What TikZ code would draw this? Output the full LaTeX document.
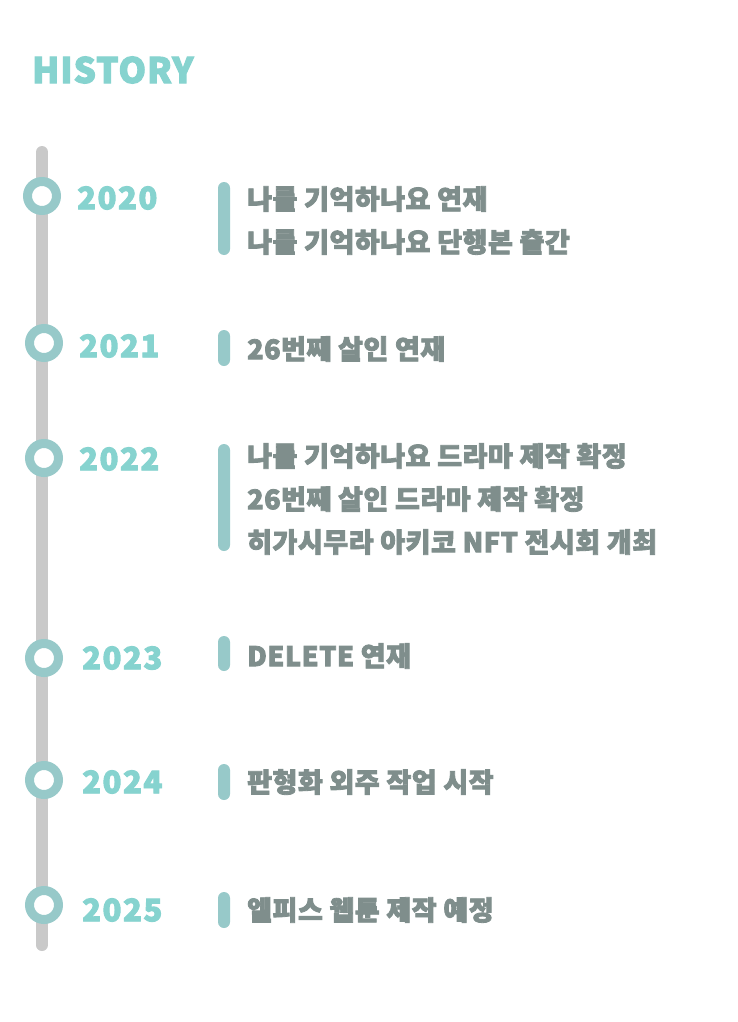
\documentclass[tikz,border=0pt]{standalone}
\usepackage{fontspec}
\setmainfont{Noto Sans CJK KR}[UprightFont=* Black, FakeBold=3]
\definecolor{titleteal}{HTML}{86D3CF}
\definecolor{ringteal}{HTML}{97C9C9}
\definecolor{linegray}{HTML}{C9C9C9}
\definecolor{textgray}{HTML}{7F8E8C}

\begin{document}
\begin{tikzpicture}[
        x=1pt, y=-1pt,
        ring/.style={circle, draw=ringteal, line width=9pt, fill=white, minimum size=29pt, inner sep=0pt},
        yearlabel/.style={anchor=west, text=titleteal, font=\fontsize{31}{31}\selectfont\addfontfeatures{LetterSpace=5}, inner sep=0pt},
        marker/.style={fill=ringteal, rounded corners=6pt},
        entry/.style={anchor=west, align=left, text=textgray, font=\fontsize{27}{43}\selectfont\addfontfeatures{LetterSpace=2}, inner sep=0pt}
    ]
        \useasboundingbox[fill=white] (0,0) rectangle (738,1022);

        % title
        \node[anchor=west, text=titleteal, font=\fontsize{35}{36}\selectfont\addfontfeatures{LetterSpace=3}, inner sep=0pt] (title) at (32,70) {HISTORY};

        % timeline axis
        \coordinate (axis-top) at (42,152);
        \coordinate (axis-bottom) at (42,945);
        \draw[linegray, line width=12pt, line cap=round] (axis-top) -- (axis-bottom);

        % rings and years
        \foreach \yr/\rx/\ry/\lx/\ly in {
            2020/42/196/77/198,
            2021/44/343/79/346,
            2022/44/458/79/459,
            2023/44/658/82/658,
            2024/44/780/82/782,
            2025/44/905/82/910
        } {
            \node[ring] (ring-\yr) at (\rx,\ry) {};
            \node[yearlabel] (year-\yr) at (\lx,\ly) {\yr};
        }

        % markers and events
        \foreach \yr/\top/\bot/\ty/\txt in {
            2020/182/255/220.5/{나를 기억하나요 연재\\나를 기억하나요 단행본 출간},
            2021/330/366/349/{26번째 살인 연재},
            2022/444/551/499/{나를 기억하나요 드라마 제작 확정\\26번째 살인 드라마 제작 확정\\히가시무라 아키코 NFT 전시회 개최},
            2023/636/671/656/{DELETE 연재},
            2024/764/800/782/{판형화 외주 작업 시작},
            2025/892/928/910/{엘피스 웹툰 제작 예정}
        } {
            \fill[marker] (218,\top) rectangle (230,\bot);
            \node[entry] (event-\yr) at (247,\ty) {\txt};
        }
    \end{tikzpicture}
\end{document}
